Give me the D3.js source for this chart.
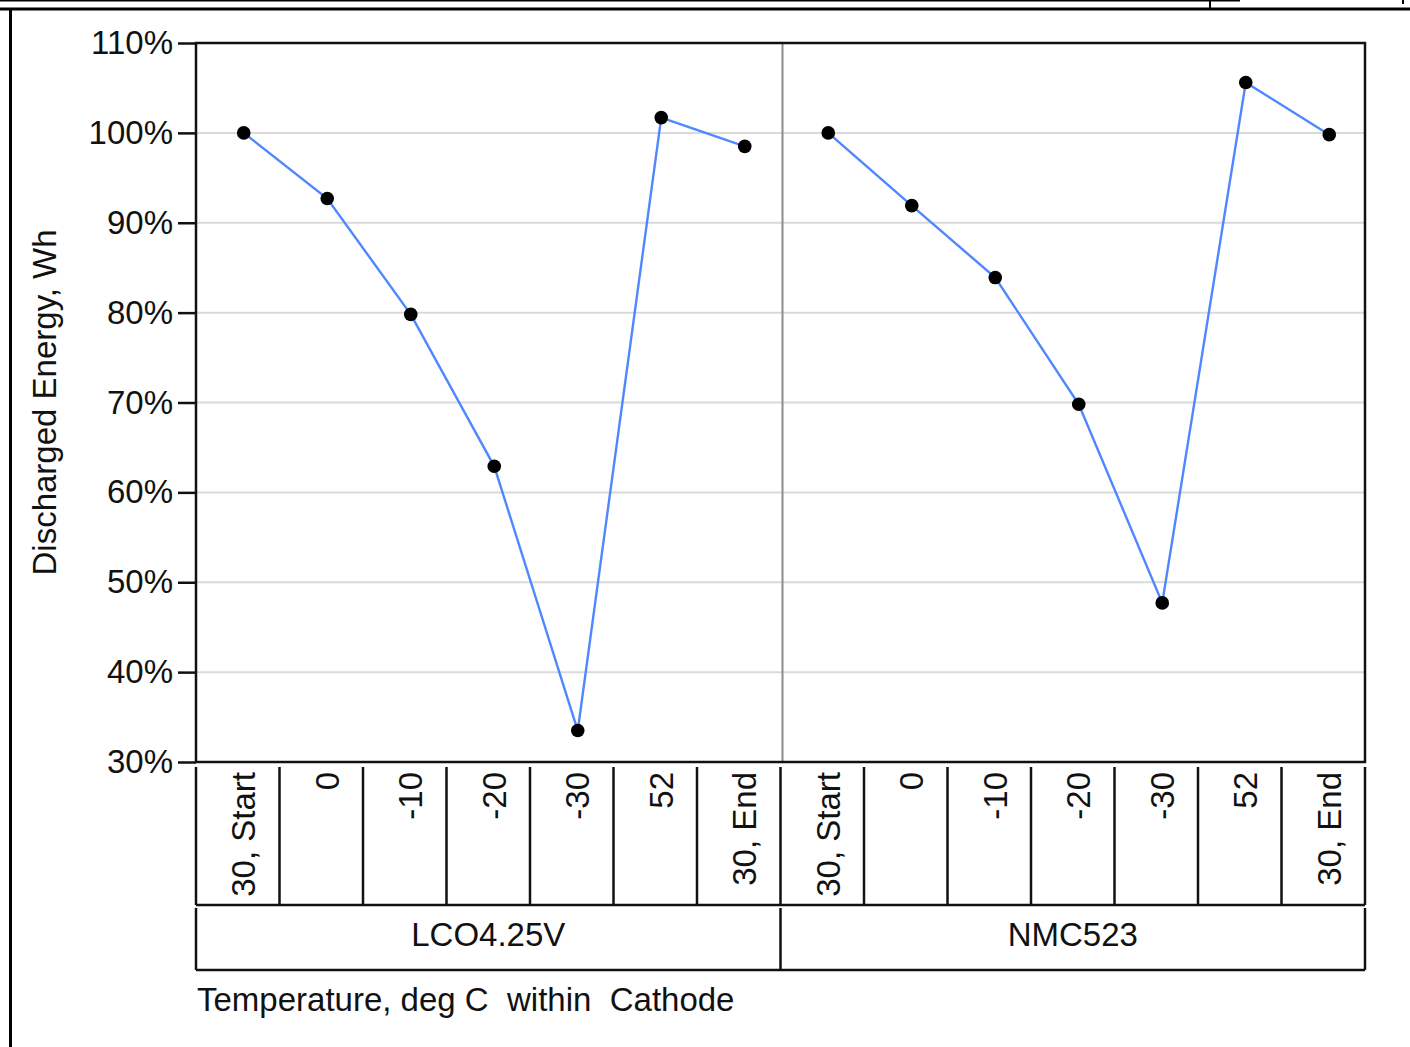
<!DOCTYPE html>
<html>
<head>
<meta charset="utf-8">
<script src="https://cdn.jsdelivr.net/npm/d3@7"></script>
<style>
  html, body { margin: 0; padding: 0; background: #fff; }
  svg { display: block; font-family: "Liberation Sans", Arial, sans-serif; }
</style>
</head>
<body>
<svg id="chart" width="1410" height="1047"></svg>
<script>
// Temperature steps tested for each cathode, in test order
const categories = ["30, Start", "0", "-10", "-20", "-30", "52", "30, End"];
const cathodes = ["LCO4.25V", "NMC523"];
// Discharged energy relative to the starting value, in percent
const lcoEnergy = [100, 92.7, 79.8, 62.9, 33.5, 101.7, 98.5];
const nmcEnergy = [100, 91.9, 83.9, 69.8, 47.7, 105.6, 99.8];
const yTicks = [30, 40, 50, 60, 70, 80, 90, 100, 110];
const gridTicks = [40, 50, 60, 70, 80, 90, 100];

const series = [
  { cathode: cathodes[0], values: lcoEnergy },
  { cathode: cathodes[1], values: nmcEnergy }
];

const W = 1410, H = 1047;
const L = 196, R = 1365, T = 43, B = 762;
const ink = "#111";
const fontSize = 33;

const svg = d3.select("#chart");

// frame of the surrounding window
const frame = svg.append("g").attr("stroke", "#000").attr("fill", "none");
frame.append("line").attr("x1", 0).attr("x2", 1240).attr("y1", 0.5).attr("y2", 0.5).attr("stroke-width", 2);
frame.append("line").attr("x1", 1210).attr("x2", 1210).attr("y1", 0).attr("y2", 9).attr("stroke-width", 2);
frame.append("line").attr("x1", 0).attr("x2", W).attr("y1", 9).attr("y2", 9).attr("stroke-width", 3);
frame.append("line").attr("x1", 10.5).attr("x2", 10.5).attr("y1", 9).attr("y2", H).attr("stroke-width", 3);
frame.append("line").attr("x1", 1403).attr("x2", 1403).attr("y1", 0).attr("y2", 4).attr("stroke-width", 2);

// scales
const y = d3.scaleLinear().domain([30, 110]).range([B, T]);
const outer = d3.scaleBand().domain(cathodes).range([L, R]);
const inner = d3.scaleBand().domain(categories).range([0, outer.bandwidth()]);
const markShift = 6;
const px = (cathode, cat) => outer(cathode) + inner(cat) + inner.bandwidth() / 2 + markShift;

// horizontal grid
svg.append("g")
  .selectAll("line")
  .data(gridTicks)
  .join("line")
  .attr("x1", L).attr("x2", R)
  .attr("y1", d => y(d)).attr("y2", d => y(d))
  .attr("stroke", "#d9d9d9").attr("stroke-width", 2);

// divider between cathode panels
svg.append("line")
  .attr("x1", outer(cathodes[1]) + 2).attr("x2", outer(cathodes[1]) + 2)
  .attr("y1", T).attr("y2", B)
  .attr("stroke", "#8c8c8c").attr("stroke-width", 2);

// plot frame
svg.append("rect")
  .attr("x", L).attr("y", T).attr("width", R - L).attr("height", B - T)
  .attr("fill", "none").attr("stroke", "#111").attr("stroke-width", 2.5);

// y axis
const yAxis = svg.append("g")
  .attr("transform", `translate(${L},0)`)
  .call(d3.axisLeft(y).tickValues(yTicks).tickFormat(d => d + "%").tickSize(18).tickPadding(5));
yAxis.select(".domain").remove();
yAxis.selectAll(".tick line").attr("stroke", "#111").attr("stroke-width", 2.5);
yAxis.selectAll(".tick text")
  .attr("fill", ink)
  .style("font-size", fontSize + "px")
  .style("font-family", "'Liberation Sans', Arial, sans-serif");

svg.append("text")
  .attr("transform", `translate(56,${(T + B) / 2}) rotate(-90)`)
  .attr("text-anchor", "middle")
  .attr("fill", ink)
  .style("font-size", fontSize + "px")
  .text("Discharged Energy, Wh");

// lines and markers
const line = d3.line()
  .x(d => px(d.cathode, categories[d.i]))
  .y(d => y(d.v));

series.forEach(s => {
  const pts = s.values.map((v, i) => ({ cathode: s.cathode, i, v }));
  svg.append("path")
    .datum(pts)
    .attr("fill", "none")
    .attr("stroke", "#4f87ff")
    .attr("stroke-width", 2.4)
    .attr("d", line);
  svg.append("g")
    .selectAll("circle")
    .data(pts)
    .join("circle")
    .attr("cx", d => px(d.cathode, categories[d.i]))
    .attr("cy", d => y(d.v))
    .attr("r", 6.8)
    .attr("fill", "#000");
});

// category table under the plot
const row1Top = 767, row1Bottom = 905, row2Top = 908, row2Bottom = 970;
const table = svg.append("g").attr("stroke", "#111").attr("stroke-width", 2.5);

const colEdges = [];
cathodes.forEach(c => {
  categories.forEach(cat => colEdges.push(outer(c) + inner(cat)));
});
colEdges.push(R);
table.selectAll("line.col")
  .data(colEdges)
  .join("line")
  .attr("class", "col")
  .attr("x1", d => d).attr("x2", d => d)
  .attr("y1", row1Top).attr("y2", row1Bottom);
table.append("line").attr("x1", L).attr("x2", R).attr("y1", row1Bottom).attr("y2", row1Bottom);

const groupEdges = cathodes.map(c => outer(c)).concat([R]);
table.selectAll("line.grp")
  .data(groupEdges)
  .join("line")
  .attr("class", "grp")
  .attr("x1", d => d).attr("x2", d => d)
  .attr("y1", row2Top).attr("y2", row2Bottom);
table.append("line").attr("x1", L).attr("x2", R).attr("y1", row2Bottom).attr("y2", row2Bottom);

// rotated temperature labels
const catLabels = [];
cathodes.forEach(c => categories.forEach(cat => catLabels.push({ c, cat })));
svg.append("g")
  .selectAll("text")
  .data(catLabels)
  .join("text")
  .attr("transform", d => `translate(${px(d.c, d.cat)},${row1Top + 5}) rotate(-90)`)
  .attr("text-anchor", "end")
  .attr("dy", "0.35em")
  .attr("fill", ink)
  .style("font-size", fontSize + "px")
  .text(d => d.cat);

// cathode labels
svg.append("g")
  .selectAll("text")
  .data(cathodes)
  .join("text")
  .attr("x", d => outer(d) + outer.bandwidth() / 2)
  .attr("y", 946)
  .attr("text-anchor", "middle")
  .attr("fill", ink)
  .style("font-size", fontSize + "px")
  .text(d => d);

// x axis title
svg.append("text")
  .attr("x", L + 1)
  .attr("y", 1011)
  .attr("fill", ink)
  .style("font-size", fontSize + "px")
  .style("white-space", "pre")
  .attr("xml:space", "preserve")
  .text("Temperature, deg C  within  Cathode");
</script>
</body>
</html>
